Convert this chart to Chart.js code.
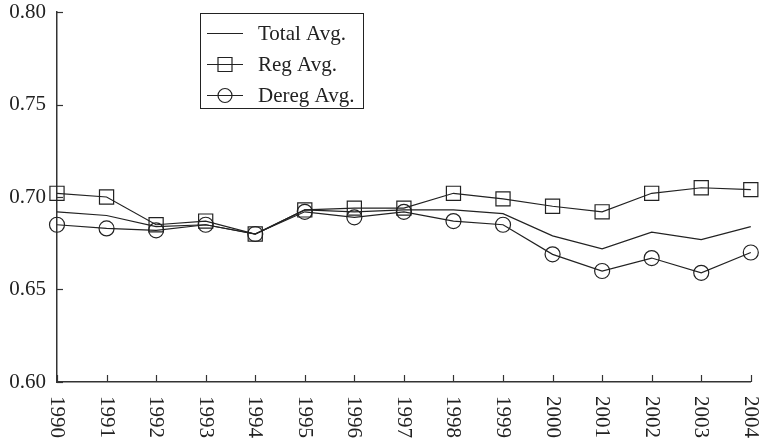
<!DOCTYPE html>
<html>
<head>
<meta charset="utf-8">
<script src="https://cdn.jsdelivr.net/npm/chart.js@4/dist/chart.umd.min.js"></script>
<style>
  html, body { margin: 0; padding: 0; background: #fff; }
</style>
</head>
<body>
<canvas id="chart" width="762" height="442"></canvas>
<script>
// data
const years = ["1990", "1991", "1992", "1993", "1994", "1995", "1996", "1997",
               "1998", "1999", "2000", "2001", "2002", "2003", "2004"];
const totalAvg = [0.692, 0.690, 0.684, 0.685, 0.680, 0.693, 0.692, 0.693,
                  0.693, 0.691, 0.679, 0.672, 0.681, 0.677, 0.684];
const regAvg = [0.702, 0.700, 0.685, 0.687, 0.680, 0.693, 0.694, 0.694,
                0.702, 0.699, 0.695, 0.692, 0.702, 0.705, 0.704];
const deregAvg = [0.685, 0.683, 0.682, 0.685, 0.680, 0.692, 0.689, 0.692,
                  0.687, 0.685, 0.669, 0.660, 0.667, 0.659, 0.670];
const yTicks = [0.60, 0.65, 0.70, 0.75, 0.80];

const FONT = "'Liberation Serif', 'DejaVu Serif', serif";
const INK = "#222";

// axis ticks pointing inward, rotated year labels and the boxed legend
const decorations = {
    id: "decorations",
    afterDraw(chart) {
        const ctx = chart.ctx;
        const x = chart.scales.x;
        const y = chart.scales.y;
        const area = chart.chartArea;
        ctx.save();
        ctx.strokeStyle = "#333";
        ctx.lineWidth = 1.2;

        // y tick marks
        yTicks.forEach(function (v) {
            const py = Math.round(y.getPixelForValue(v)) + 0.5;
            ctx.beginPath();
            ctx.moveTo(area.left, py);
            ctx.lineTo(area.left + 6, py);
            ctx.stroke();
        });

        // x tick marks and labels
        ctx.fillStyle = INK;
        ctx.font = "21px " + FONT;
        ctx.textAlign = "left";
        ctx.textBaseline = "middle";
        years.forEach(function (yr, i) {
            const px = Math.round(x.getPixelForValue(i)) + 0.5;
            ctx.beginPath();
            ctx.moveTo(px, area.bottom);
            ctx.lineTo(px, area.bottom - 7);
            ctx.stroke();
            ctx.save();
            ctx.translate(px, area.bottom + 14);
            ctx.rotate(Math.PI / 2);
            ctx.fillText(yr, 0, 1);
            ctx.restore();
        });

        // legend
        ctx.strokeStyle = INK;
        ctx.lineWidth = 1;
        ctx.strokeRect(200.5, 13.5, 163, 95);
        const rows = [33, 64, 95];
        chart.data.datasets.forEach(function (ds, i) {
            const ly = rows[i] + 0.5;
            ctx.lineWidth = 1.2;
            ctx.beginPath();
            ctx.moveTo(207, ly);
            ctx.lineTo(243, ly);
            ctx.stroke();
            if (ds.pointRadius > 0) {
                ctx.beginPath();
                if (ds.pointStyle === "rect") {
                    ctx.rect(218, ly - 7, 14, 14);
                } else {
                    ctx.arc(225, ly, 7, 0, Math.PI * 2);
                }
                ctx.stroke();
            }
            ctx.fillText(ds.label, 258, ly + 1);
        });
        ctx.restore();
    }
};

new Chart(document.getElementById("chart"), {
    type: "line",
    data: {
        labels: years,
        datasets: [
            {
                label: "Total Avg.",
                data: totalAvg,
                borderColor: INK,
                borderWidth: 1.2,
                pointRadius: 0,
                tension: 0
            },
            {
                label: "Reg Avg.",
                data: regAvg,
                borderColor: INK,
                borderWidth: 1.2,
                pointStyle: "rect",
                pointRadius: 10,
                pointBorderWidth: 1.2,
                pointBorderColor: INK,
                pointBackgroundColor: "rgba(0,0,0,0)",
                tension: 0
            },
            {
                label: "Dereg Avg.",
                data: deregAvg,
                borderColor: INK,
                borderWidth: 1.2,
                pointStyle: "circle",
                pointRadius: 7.5,
                pointBorderWidth: 1.2,
                pointBorderColor: INK,
                pointBackgroundColor: "rgba(0,0,0,0)",
                tension: 0
            }
        ]
    },
    options: {
        responsive: false,
        animation: false,
        layout: { padding: { top: 12, right: 11, bottom: 0, left: 0 } },
        plugins: {
            legend: { display: false },
            tooltip: { enabled: false }
        },
        elements: { point: { hitRadius: 0, hoverRadius: 0 } },
        scales: {
            x: {
                type: "category",
                offset: false,
                grid: { display: false, drawTicks: false },
                border: { display: true, color: "#333", width: 1.5 },
                ticks: { display: false },
                afterFit: function (scale) {
                    scale.height = 60;
                    scale.paddingLeft = 0;
                    scale.paddingRight = 0;
                }
            },
            y: {
                min: 0.60,
                max: 0.80,
                grid: { display: false, drawTicks: false },
                border: { display: true, color: "#333", width: 1.5 },
                afterBuildTicks: function (scale) {
                    scale.ticks = yTicks.map(function (v) { return { value: v }; });
                },
                ticks: {
                    color: INK,
                    padding: 11,
                    font: { family: FONT, size: 21 },
                    callback: function (v) { return Number(v).toFixed(2); }
                },
                afterFit: function (scale) {
                    scale.width = 57;
                    scale.paddingTop = 0;
                    scale.paddingBottom = 0;
                }
            }
        }
    },
    plugins: [decorations]
});
</script>
</body>
</html>
